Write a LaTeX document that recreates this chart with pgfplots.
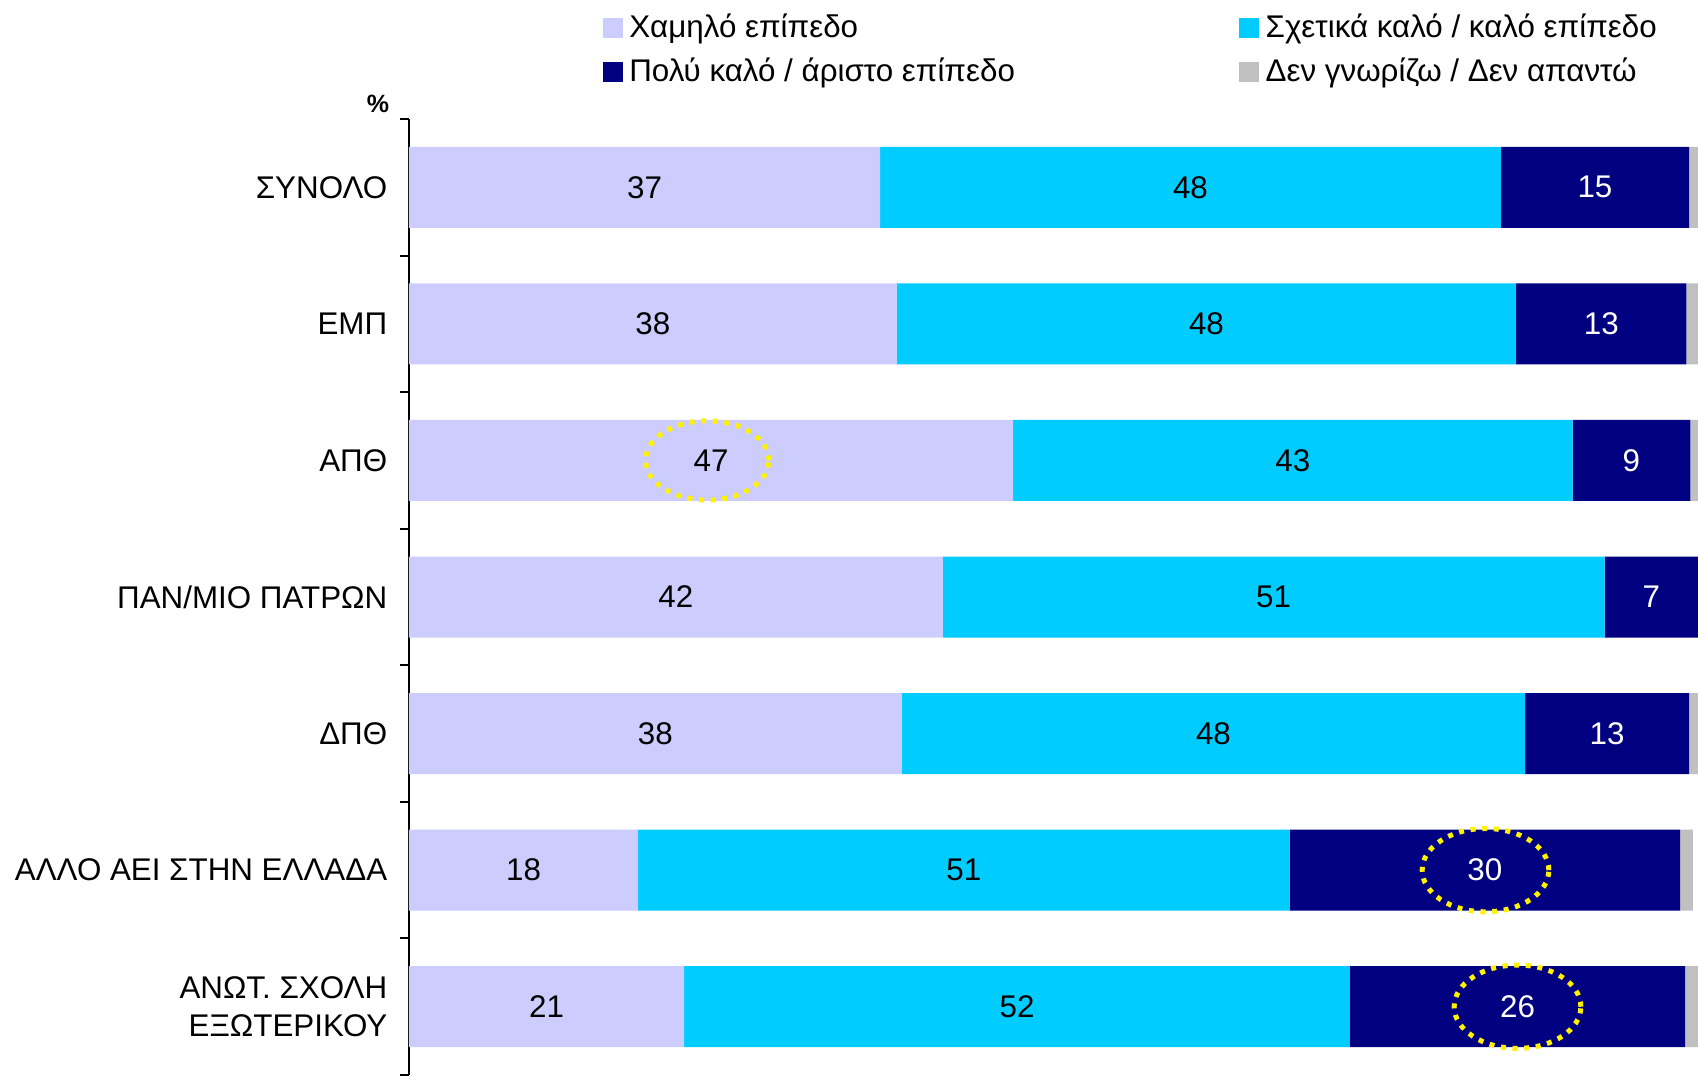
\documentclass[border=0pt]{standalone}
\usepackage{pgfplots}
\usepackage{pgfplotstable}
\usepackage{fontspec}
\setmainfont{Liberation Sans}
\pgfplotsset{compat=1.18}

\definecolor{lowc}{RGB}{204,204,255}
\definecolor{midc}{RGB}{0,204,255}
\definecolor{highc}{RGB}{0,0,128}
\definecolor{nac}{RGB}{192,192,192}

% cat = row (0 = top), val = bar length, lab = printed value
\pgfplotstableread{
cat val lab
0 36.8 37
1 38.1 38
2 47.2 47
3 41.7 42
4 38.5 38
5 17.9 18
6 21.5 21
}\low
\pgfplotstableread{
cat val lab
0 48.5 48
1 48.4 48
2 43.7 43
3 51.7 51
4 48.7 48
5 50.9 51
6 52.0 52
}\mid
\pgfplotstableread{
cat val lab
0 14.7 15
1 13.3 13
2 9.2 9
3 7.3 7
4 12.8 13
5 30.5 30
6 26.2 26
}\high
\pgfplotstableread{
cat val
0 1
1 1
2 1
3 0.5
4 1
5 1
6 1
}\na

\newcommand\lblfont{\fontsize{9.4}{11.4}\selectfont}
\tikzset{circ/.style={yellow, line width=1.5pt, dash pattern=on 1.5pt off 2pt}}

\begin{document}
\begin{tikzpicture}
\useasboundingbox (-122.7pt,0pt) rectangle (386.7pt,322.5pt);
\begin{axis}[
  at={(0pt,0pt)}, anchor=south west,
  scale only axis, width=386.7pt, height=286.8pt,
  xbar stacked, bar width=24.3pt,
  xmin=0, xmax=100.7, ymin=-0.5, ymax=6.5, y dir=reverse,
  axis x line=none, axis y line*=left,
  axis line style={black, line width=0.6pt},
  ytick={0,...,6},
  yticklabels={ΣΥΝΟΛΟ, ΕΜΠ, ΑΠΘ, ΠΑΝ/ΜΙΟ ΠΑΤΡΩΝ, ΔΠΘ, ΑΛΛΟ ΑΕΙ ΣΤΗΝ ΕΛΛΑΔΑ, {ΑΝΩΤ. ΣΧΟΛΗ\\ΕΞΩΤΕΡΙΚΟΥ}},
  yticklabel style={align=right, font=\lblfont, xshift=-3pt},
  major tick length=0pt,
  minor ytick={-0.5,0.5,...,6.5},
  minor tick length=2.7pt, tick align=outside,
  y tick style={black, line width=0.6pt},
  /pgf/number format/assume math mode=true,
  every node near coord/.append style={anchor=center, font=\lblfont},
  legend columns=2,
  legend cell align=left,
  legend image code/.code={\fill[#1] (0pt,-2.95pt) rectangle (5.9pt,2.95pt);},
  legend style={at={(axis description cs:0.15,1.118)}, anchor=north west,
    draw=none, fill=none, inner sep=0pt, font=\lblfont, row sep=0.7pt},
]
\addplot[fill=lowc, draw=none, point meta=explicit, nodes near coords,
  nodes near coords style={text=black}] table[x=val, y=cat, meta=lab] {\low};
\addplot[fill=midc, draw=none, point meta=explicit, nodes near coords,
  nodes near coords style={text=black}] table[x=val, y=cat, meta=lab] {\mid};
\addplot[fill=highc, draw=none, point meta=explicit, nodes near coords,
  nodes near coords style={text=white}] table[x=val, y=cat, meta=lab] {\high};
\addplot[fill=nac, draw=none] table[x=val, y=cat] {\na};
\legend{\makebox[181pt][l]{Χαμηλό επίπεδο}, Σχετικά καλό / καλό επίπεδο,
  \makebox[181pt][l]{Πολύ καλό / άριστο επίπεδο}, Δεν γνωρίζω / Δεν απαντώ}

\coordinate (e1) at (axis cs:23.3,2);
\coordinate (e2) at (axis cs:84.1,5);
\coordinate (e3) at (axis cs:86.6,6);
\end{axis}
\draw[circ] (e1) ellipse [x radius=18.5pt, y radius=11.9pt];
\draw[circ] (e2) ellipse [x radius=19pt, y radius=12.5pt];
\draw[circ] (e3) ellipse [x radius=19pt, y radius=12.5pt];
\node[font=\bfseries\fontsize{7.5}{9}\selectfont] at (-9.3pt,291.3pt) {\%};
\end{tikzpicture}
\end{document}
